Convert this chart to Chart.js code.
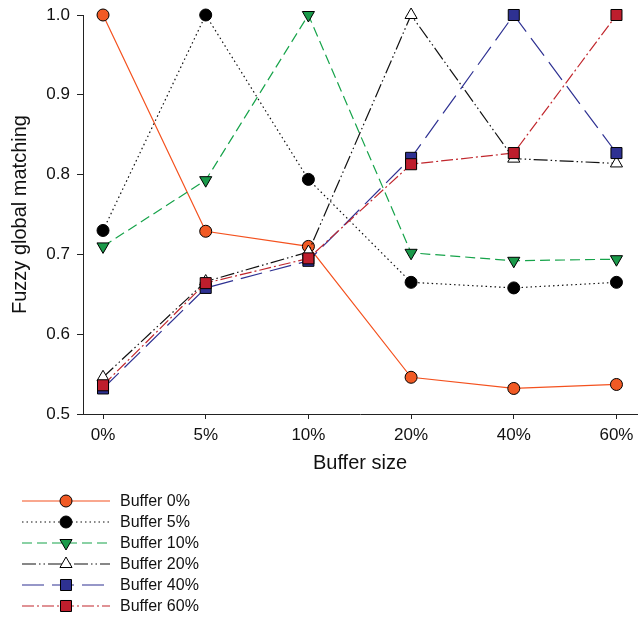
<!DOCTYPE html>
<html lang="en">
<head>
  <meta charset="UTF-8" />
  <title>Fuzzy global matching</title>
  <script src="https://cdn.jsdelivr.net/npm/chart.js"></script>
  <style>
    html, body {
      margin: 0;
      padding: 0;
      background: #fff;
    }
    .chart-container {
      width: 641px;
      height: 617px;
      position: relative;
    }
  </style>
</head>
<body>
  <div class="chart-container">
    <canvas id="chart"></canvas>
  </div>
  <script>
    // Buffer size categories on the x axis
    const categories = ['0%', '5%', '10%', '20%', '40%', '60%'];
    const yTicks = [0.5, 0.6, 0.7, 0.8, 0.9, 1.0];

    // Fuzzy global matching per series
    const buffer0 = [1.0, 0.729, 0.710, 0.546, 0.532, 0.537];
    const buffer5 = [0.730, 1.0, 0.794, 0.665, 0.658, 0.665];
    const buffer10 = [0.710, 0.793, 1.0, 0.702, 0.692, 0.694];
    const buffer20 = [0.546, 0.666, 0.703, 1.0, 0.820, 0.814];
    const buffer40 = [0.532, 0.658, 0.692, 0.821, 1.0, 0.827];
    const buffer60 = [0.536, 0.664, 0.695, 0.813, 0.827, 1.0];

    const seriesNames = ['Buffer 0%', 'Buffer 5%', 'Buffer 10%', 'Buffer 20%', 'Buffer 40%', 'Buffer 60%'];

    const font = 'Liberation Sans, Arial, Helvetica, sans-serif';
    const toPoints = arr => arr.map((v, i) => ({ x: i, y: v }));

    function series(i, data, style) {
      return Object.assign({
        label: seriesNames[i],
        data: toPoints(data),
        borderWidth: 1.2,
        pointBorderColor: '#000',
        pointBorderWidth: 1,
        pointHoverRadius: 6,
        tension: 0,
        fill: false,
        clip: false,
        order: 5 - i
      }, style);
    }

    const datasets = [
      series(0, buffer0, {
        borderColor: '#f4511e',
        pointBackgroundColor: '#f15a24',
        pointStyle: 'circle',
        pointRadius: 6
      }),
      series(1, buffer5, {
        borderColor: '#111',
        borderDash: [1.5, 3],
        pointBackgroundColor: '#000',
        pointStyle: 'circle',
        pointRadius: 6
      }),
      series(2, buffer10, {
        borderColor: '#16a34a',
        borderDash: [10, 5],
        pointBackgroundColor: '#1a9a4a',
        pointStyle: 'triangle',
        pointRotation: 180,
        pointRadius: 7
      }),
      series(3, buffer20, {
        borderColor: '#111',
        borderDash: [14, 3, 1.5, 3, 1.5, 3],
        pointBackgroundColor: '#fff',
        pointStyle: 'triangle',
        pointRadius: 7
      }),
      series(4, buffer40, {
        borderColor: '#2e3192',
        borderDash: [22, 8],
        pointBackgroundColor: '#2e3192',
        pointStyle: 'rect',
        pointRadius: 7.8
      }),
      series(5, buffer60, {
        borderColor: '#c1272d',
        borderDash: [12, 3, 2, 3],
        pointBackgroundColor: '#be1e2d',
        pointStyle: 'rect',
        pointRadius: 7.8
      })
    ];

    // Legend below the plot: line sample with marker in the middle
    const sampleLegend = {
      id: 'sampleLegend',
      afterDraw(chart) {
        const ctx = chart.ctx;
        const x0 = 22, x1 = 110, xm = 66, top = 501, step = 21;
        chart.data.datasets.forEach((ds, i) => {
          const y = top + i * step;
          ctx.save();
          ctx.strokeStyle = ds.borderColor;
          ctx.lineWidth = ds.borderWidth;
          ctx.setLineDash(ds.borderDash || []);
          ctx.beginPath();
          ctx.moveTo(x0, y);
          ctx.lineTo(x1, y);
          ctx.stroke();
          ctx.setLineDash([]);
          ctx.fillStyle = ds.pointBackgroundColor;
          ctx.strokeStyle = ds.pointBorderColor;
          ctx.lineWidth = ds.pointBorderWidth;
          Chart.helpers.drawPoint(ctx, {
            pointStyle: ds.pointStyle,
            rotation: ds.pointRotation || 0,
            radius: ds.pointRadius,
            borderWidth: ds.pointBorderWidth
          }, xm, y);
          ctx.fillStyle = '#111';
          ctx.font = '16px ' + font;
          ctx.textBaseline = 'middle';
          ctx.textAlign = 'left';
          ctx.fillText(ds.label, 120, y + 1);
          ctx.restore();
        });
      }
    };

    new Chart(document.getElementById('chart'), {
      type: 'line',
      data: { datasets: datasets },
      options: {
        responsive: true,
        maintainAspectRatio: false,
        animation: false,
        layout: {
          autoPadding: false,
          padding: { top: 15, right: 4, bottom: 138, left: 0 }
        },
        scales: {
          x: {
            type: 'linear',
            min: -0.195,
            max: 5.2,
            afterBuildTicks: scale => {
              scale.ticks = categories.map((c, i) => ({ value: i }));
            },
            afterFit: scale => {
              scale.height = 65;
              scale.paddingLeft = 0;
              scale.paddingRight = 0;
            },
            ticks: {
              callback: v => categories[v],
              color: '#111',
              padding: 6,
              maxRotation: 0,
              font: { family: font, size: 17 }
            },
            grid: {
              drawOnChartArea: false,
              tickLength: 5,
              tickColor: '#222'
            },
            border: { color: '#222', width: 1 },
            title: {
              display: true,
              text: 'Buffer size',
              color: '#111',
              font: { family: font, size: 20 },
              padding: { top: 0, bottom: 4 }
            }
          },
          y: {
            min: 0.5,
            max: 1.0,
            afterBuildTicks: scale => {
              scale.ticks = yTicks.map(v => ({ value: v }));
            },
            afterFit: scale => {
              scale.width = 83;
              scale.paddingTop = 0;
              scale.paddingBottom = 0;
            },
            ticks: {
              callback: v => v.toFixed(1),
              color: '#111',
              padding: 7,
              font: { family: font, size: 17 }
            },
            grid: {
              drawOnChartArea: false,
              tickLength: 6,
              tickColor: '#222'
            },
            border: { color: '#222', width: 1 },
            title: {
              display: true,
              text: 'Fuzzy global matching',
              color: '#111',
              font: { family: font, size: 20 },
              padding: { top: 8, bottom: 0 }
            }
          }
        },
        plugins: {
          legend: { display: false },
          tooltip: { enabled: false }
        }
      },
      plugins: [sampleLegend]
    });
  </script>
</body>
</html>
